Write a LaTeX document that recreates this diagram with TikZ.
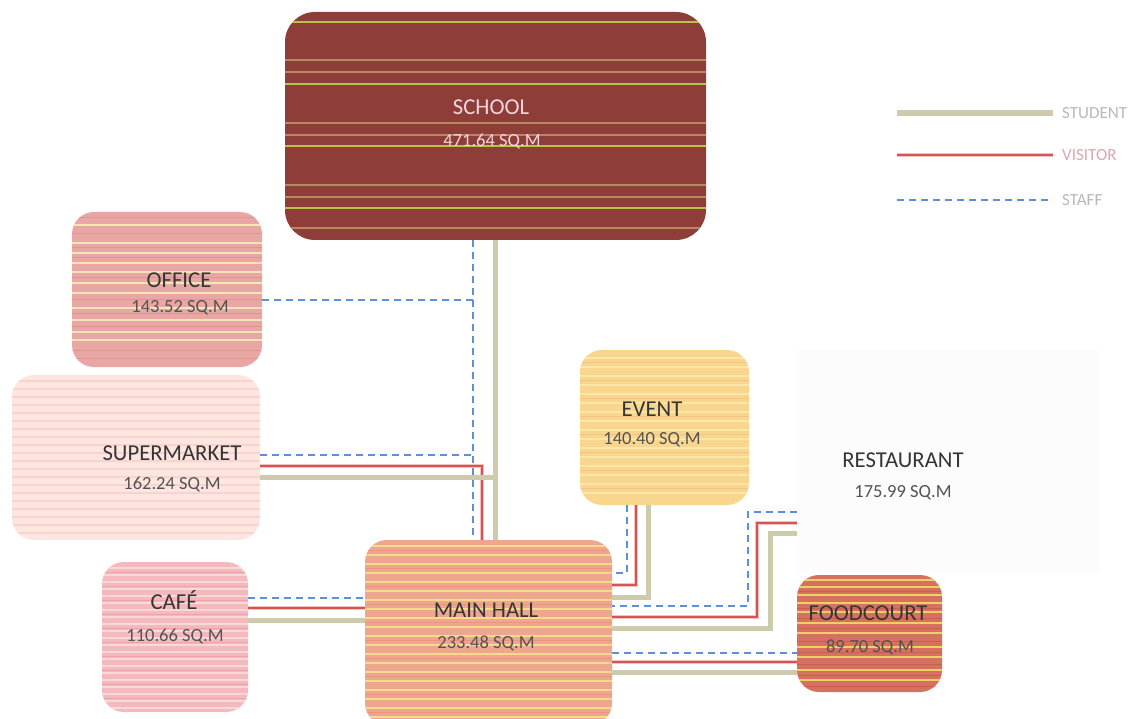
\documentclass[tikz,border=0pt]{standalone}
\usepackage{fontspec}
\setmainfont{Carlito}
\definecolor{schoolred}{HTML}{8E3D38}
\definecolor{schoolstripe}{HTML}{B9C24A}
\definecolor{schoolthin}{HTML}{B58A5C}
\definecolor{officepink}{HTML}{E8A7A4}
\definecolor{officestripe}{HTML}{F7E6B5}
\definecolor{officedark}{HTML}{DE9590}
\definecolor{smpink}{HTML}{FDE6E2}
\definecolor{smstripe}{HTML}{F9D3CD}
\definecolor{smyellow}{HTML}{FCEBD6}
\definecolor{cafepink}{HTML}{F3B9BE}
\definecolor{cafestripe}{HTML}{F8D9D6}
\definecolor{cafedark}{HTML}{EDA3AA}
\definecolor{hallsalmon}{HTML}{EFA68E}
\definecolor{hallstripe}{HTML}{F6DA8E}
\definecolor{halldark}{HTML}{E9957F}
\definecolor{eventyellow}{HTML}{F8D68E}
\definecolor{eventstripe}{HTML}{FBE8A8}
\definecolor{eventorange}{HTML}{F4C486}
\definecolor{foodred}{HTML}{D6705F}
\definecolor{foodstripe}{HTML}{EFCF68}
\definecolor{fooddark}{HTML}{C95F52}
\definecolor{studentc}{HTML}{CDCBAB}
\definecolor{visitorc}{HTML}{D45550}
\definecolor{visitorglow}{HTML}{F5C0C2}
\definecolor{staffc}{HTML}{5E8FDA}
\definecolor{textdark}{HTML}{353535}
\definecolor{schooltext}{HTML}{F6D6DC}
\definecolor{visitorlabel}{HTML}{DDA6AE}
\tikzset{
  box/.style={rounded corners=22pt, inner sep=0pt, draw=none},
  stripeset/.style n args={6}{path picture={
      \foreach \s in {#3}{\draw[#1, line width=#2] ([yshift={-\s*1pt}]path picture bounding box.north west) -- ([yshift={-\s*1pt}]path picture bounding box.north east);}
      \foreach \s in {#6}{\draw[#4, line width=#5] ([yshift={-\s*1pt}]path picture bounding box.north west) -- ([yshift={-\s*1pt}]path picture bounding box.north east);}
  }},
  roomname/.style={inner sep=0pt, font=\fontsize{22.7}{27}\selectfont, text=textdark},
  roomarea/.style={inner sep=0pt, font=\fontsize{18.5}{22}\selectfont, text=textdark!85},
  legendtext/.style={inner sep=0pt, anchor=west, font=\fontsize{17}{20}\selectfont},
  student/.style={draw=studentc, line width=5pt},
  visitor/.style={draw=visitorc, line width=2.4pt, preaction={draw=visitorglow, line width=4.5pt}},
  staff/.style={draw=staffc, line width=1.8pt, dash pattern=on 7pt off 5pt}
}
\begin{document}
\begin{tikzpicture}[x=1pt,y=-1pt]
\useasboundingbox (0,0) rectangle (1135,719);
\fill[white] (0,0) rectangle (1135,719);

% restaurant (faint area)
\node[draw=none, fill=black!1, inner sep=0pt, minimum width=303, minimum height=222] (restaurant) at (948.5,461) {};

% rooms
\node[box, rounded corners=30pt, fill=schoolred, minimum width=421, minimum height=228,
  stripeset={schoolstripe}{2.4pt}{10,72,134,196}{schoolthin}{1.2pt}{48,60,111,123,173,185,216}] (school) at (495.5,126) {};
\node[box, fill=officepink, minimum width=190, minimum height=155,
  stripeset={officestripe}{2.6pt}{13,31,41,51,60,71,81,96,108,120,128}{officedark}{1pt}{6,22,36,46,66,88,102,114,138,146}] (office) at (167,289.5) {};
\node[box, fill=smpink, minimum width=248, minimum height=165,
  stripeset={smstripe}{1.4pt}{6,14,...,162}{smyellow}{1pt}{10,26,...,160}] (supermarket) at (136,457.5) {};
\node[box, fill=cafepink, minimum width=146, minimum height=150,
  stripeset={cafestripe}{1.8pt}{6,13,...,148}{cafedark}{0.8pt}{10,24,...,146}] (cafe) at (175,637) {};
\node[box, fill=hallsalmon, minimum width=247, minimum height=185,
  stripeset={hallstripe}{2.4pt}{6,15,...,185}{halldark}{0.8pt}{10,28,...,185}] (mainhall) at (488.5,632.5) {};
\node[box, fill=eventyellow, minimum width=169, minimum height=155,
  stripeset={eventstripe}{2pt}{8,17,...,150}{eventorange}{1pt}{12,30,...,150}] (event) at (664.5,427.5) {};
\node[box, fill=foodred, minimum width=145, minimum height=117,
  stripeset={foodstripe}{1.6pt}{5,12,20,28,37,48,58,72,82,95,105}{fooddark}{1pt}{16,33,43,53,66,77,89,100,111}] (foodcourt) at (869.5,633.5) {};

% labels
\node[roomname, text=schooltext] (schoolname) at (491,107) {SCHOOL};
\node[roomarea, text=schooltext] (schoolarea) at (492,141) {471.64 SQ.M};
\node[roomname] (officename) at (179,280) {OFFICE};
\node[roomarea] (officearea) at (180,308) {143.52 SQ.M};
\node[roomname] (smname) at (172,453) {SUPERMARKET};
\node[roomarea] (smarea) at (172,484) {162.24 SQ.M};
\node[roomname] (cafename) at (174,600) {CAFÉ};
\node[roomarea] (cafearea) at (175,636) {110.66 SQ.M};
\node[roomname] (hallname) at (486,610) {MAIN HALL};
\node[roomarea] (hallarea) at (486,643) {233.48 SQ.M};
\node[roomname] (eventname) at (652,409) {EVENT};
\node[roomarea] (eventarea) at (652,440) {140.40 SQ.M};
\node[roomname] (restname) at (903,460) {RESTAURANT};
\node[roomarea] (restarea) at (903,493) {175.99 SQ.M};
\node[roomname] (foodname) at (868,613) {FOODCOURT};
\node[roomarea] (foodarea) at (870,647) {89.70 SQ.M};

% school <-> main hall
\coordinate (vS) at (473,0);
\coordinate (vT) at (495,0);
\draw[staff] (school.south -| vS) -- (mainhall.north -| vS);
\draw[student] (school.south -| vT) -- (mainhall.north -| vT);

% office
\coordinate (jO) at (473,300);
\draw[staff] (office.east |- jO) -- (jO);

% supermarket
\coordinate (jM1) at (473,455);
\coordinate (jM2) at (482,466);
\coordinate (jM3) at (495,477);
\draw[staff] (supermarket.east |- jM1) -- (jM1);
\draw[visitor] (supermarket.east |- jM2) -- (jM2) -- (mainhall.north -| jM2);
\draw[student] (supermarket.east |- jM3) -- (jM3);

% cafe
\coordinate (c1) at (300,598);
\coordinate (c2) at (300,608);
\coordinate (c3) at (300,620);
\draw[staff] (cafe.east |- c1) -- (mainhall.west |- c1);
\draw[visitor] (cafe.east |- c2) -- (mainhall.west |- c2);
\draw[student] (cafe.east |- c3) -- (mainhall.west |- c3);

% event
\coordinate (e1) at (627,573);
\coordinate (e2) at (636,585);
\coordinate (e3) at (648,597);
\draw[staff] (event.south -| e1) -- (e1) -- (mainhall.east |- e1);
\draw[visitor] (event.south -| e2) -- (e2) -- (mainhall.east |- e2);
\draw[student] (event.south -| e3) -- (e3) -- (mainhall.east |- e3);

% restaurant
\coordinate (r1a) at (748,512); \coordinate (r1b) at (748,606);
\coordinate (r2a) at (757,523); \coordinate (r2b) at (757,617);
\coordinate (r3a) at (770,533); \coordinate (r3b) at (770,628);
\draw[staff] (restaurant.west |- r1a) -- (r1a) -- (r1b) -- (mainhall.east |- r1b);
\draw[visitor] (restaurant.west |- r2a) -- (r2a) -- (r2b) -- (mainhall.east |- r2b);
\draw[student] (restaurant.west |- r3a) -- (r3a) -- (r3b) -- (mainhall.east |- r3b);

% foodcourt
\coordinate (f1) at (700,653);
\coordinate (f2) at (700,662);
\coordinate (f3) at (700,672);
\draw[staff] (mainhall.east |- f1) -- (foodcourt.west |- f1);
\draw[visitor] (mainhall.east |- f2) -- (foodcourt.west |- f2);
\draw[student] (mainhall.east |- f3) -- (foodcourt.west |- f3);

% legend
\node[legendtext, text=black!28] (lgstudent) at (1062,113) {STUDENT};
\node[legendtext, text=visitorlabel] (lgvisitor) at (1062,155) {VISITOR};
\node[legendtext, text=black!28] (lgstaff) at (1062,200) {STAFF};
\coordinate (ls) at (897,113);
\coordinate (lv) at (897,155);
\coordinate (lf) at (897,200);
\draw[student, line width=6pt] (ls) -- ([xshift=-9pt]lgstudent.west);
\draw[visitor] (lv) -- ([xshift=-9pt]lgvisitor.west);
\draw[staff] (lf) -- ([xshift=-9pt]lgstaff.west);
\end{tikzpicture}
\end{document}
